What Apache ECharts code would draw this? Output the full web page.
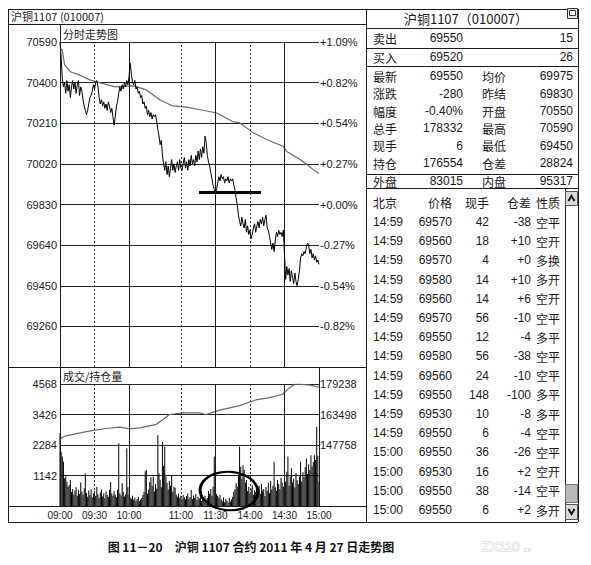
<!DOCTYPE html>
<html><head><meta charset="utf-8">
<script src="https://cdn.jsdelivr.net/npm/echarts@6/dist/echarts.min.js"></script>
<style>html,body{margin:0;padding:0;background:#fff}#c{width:591px;height:565px}</style>
</head><body><div id="c"></div>
<script>
// ---------- data ----------
const sessions = [['09:00','10:15'],['10:31','11:30'],['13:31','15:00']];
const prevSettle = 69830;
const priceScale = {min:69070, max:70590, interval:190};
const volScale = {min:0, max:4568, interval:1142};
const oiScale = {min:116278, max:179238, interval:15740};
const oiLabelMin = 147758;
const timeLabels = ['09:00','09:30','10:00','11:00','11:30','14:00','14:30','15:00'];
const solidTimes = ['10:00','11:30','14:30'];
const dottedTimes = ['09:30','11:00','14:00'];

const price = [70590,70520,70420,70380,70400,70350,
70410,70360,70390,70330,70380,70410,70370,70400,70350,70390,70410,70340,70380,70360,
70320,70290,70270,70250,70270,
70300,70330,70340,70360,70390,70370,70400,70410,
70380,70330,70300,70320,70290,70310,70280,70300,70270,70310,70290,70260,70280,70240,
70200,70240,70290,70310,70350,70380,70360,70390,70370,70400,70380,70410,
70390,70430,70490,70440,70400,
70390,70410,70370,70380,70350,70360,70330,70340,70300,70310,
70280,70290,70250,70270,70240,70260,70230,70250,70240,70250,70220,
70180,70150,70110,70130,70060,70020,
69990,70030,69970,70010,69960,70000,70040,69990,70020,69980,70010,70030,69990,70040,70000,69990,70020,70050,70000,70030,69990,70040,70010,70060,70020,70040,
70010,70060,70030,70080,70040,70090,70050,70100,70070,70150,70120,70060,
70030,70010,69980,69950,69920,69900,69880,
69900,69930,69960,69940,69970,69950,69960,69930,69950,69940,69960,69930,69950,69940,69950,69920,
69900,69860,69830,69780,69750,69730,69770,69740,69720,
69760,69700,69730,69690,69710,69670,69690,
69720,69740,69700,69730,
69750,69720,69760,69740,69770,69730,69760,69780,69720,
69710,69680,69650,69620,69650,69610,
69660,69700,69680,69710,69690,69700,69680,69710,
69600,69480,
69540,69500,69530,69470,69520,69490,69460,69510,69470,69450,69480,
69520,69580,69600,69590,69610,69600,69630,69650,69640,
69600,69620,69580,69600,69570,69590,69560,69570,69550];

const avgPrice = [['09:00',70560],['09:02',70553],['09:04',70483],['09:09',70451],['09:17',70436],
['09:26',70413],['09:35',70399],['09:48',70380],['10:04',70385],['10:15',70366],['10:42',70319],
['10:53',70291],['11:05',70285],['11:17',70273],['13:31',70258],['13:45',70218],['13:51',70212],
['14:03',70165],['14:15',70133],['14:29',70101],['14:32',70078],['14:44',70039],['14:57',69985],['15:00',69975]];

const volume = [2720,2030,1850,1660,1040,1100,910,720,790,970,
520,640,430,580,700,380,610,450,880,540,
420,660,1220,490,350,580,410,620,330,470,
560,380,720,440,300,510,620,360,480,290,
540,410,350,600,900,470,380,560,420,330,
610,2350,480,390,850,520,360,440,2160,700,
410,320,270,380,230,310,200,260,350,180,
240,300,410,520,1300,1350,460,620,900,1080,
760,1100,540,820,650,2660,1220,980,700,2410,
1500,2220,1100,860,620,940,760,1160,520,720,
680,430,350,470,300,380,260,420,330,250,
370,470,280,340,600,260,390,310,450,220,
350,280,420,190,330,260,380,230,300,560,
470,640,380,720,1850,610,450,380,300,420,
250,180,330,140,260,200,120,310,170,240,
350,530,640,850,720,1150,2220,1470,1020,1530,
1350,880,970,560,720,480,650,790,420,600,
530,690,380,760,450,820,580,640,370,710,
560,870,480,940,620,760,1660,700,560,970,
820,640,1060,890,720,3400,920,1280,1850,760,
1100,1410,880,1020,690,1240,960,820,1100,1660,
920,1260,1080,1450,1780,1200,1560,1340,1900,1480,
1650,1900,1720,2970,1880,900];

const openInterest = [['09:00',151000],['09:05',152500],['09:25',154960],['09:40',156280],['09:52',156940],
['10:00',156100],['10:09',156600],['10:38',158250],['10:44',160700],['10:50',163500],['11:02',164300],
['11:16',164300],['11:22',163500],['13:33',165600],['13:51',168100],['14:05',171000],['14:17',172200],
['14:28',173800],['14:34',177100],['14:39',179100],['14:43',179200],['14:52',178700],['14:57',177900],['15:00',177800]];

const chartTitle = '沪铜1107 (010007)';
const priceTitle = '分时走势图';
const volTitle = '成交/持仓量';
const quoteTitle = '沪铜1107（010007）';
const quoteRows = [
  ['卖出','69550','','15'],
  ['买入','69520','','26'],
  ['最新','69550','均价','69975'],
  ['涨跌','-280','昨结','69830'],
  ['幅度','-0.40%','开盘','70550'],
  ['总手','178332','最高','70590'],
  ['现手','6','最低','69450'],
  ['持仓','176554','仓差','28824'],
  ['外盘','83015','内盘','95317']
];
const tickHeader = ['北京','价格','现手','仓差','性质'];
const tickRows = [
  ['14:59','69570','42','-38','空平'],
  ['14:59','69560','18','+10','空开'],
  ['14:59','69570','4','+0','多换'],
  ['14:59','69580','14','+10','多开'],
  ['14:59','69560','14','+6','空开'],
  ['14:59','69570','56','-10','空平'],
  ['14:59','69550','12','-4','多平'],
  ['14:59','69580','56','-38','空平'],
  ['14:59','69560','24','-10','空平'],
  ['14:59','69550','148','-100','多平'],
  ['14:59','69530','10','-8','多平'],
  ['14:59','69550','6','-4','空平'],
  ['15:00','69550','36','-26','空平'],
  ['15:00','69530','16','+2','空开'],
  ['15:00','69550','38','-14','空平'],
  ['15:00','69550','6','+2','多开']
];
const caption = '图 11－20　沪铜 1107 合约 2011 年 4 月 27 日走势图';
const watermark = 'ZX110';
const watermarkSuffix = '.cn';

// ---------- build ----------
const categories = [];
sessions.forEach(([a,b]) => {
  let [h,m] = a.split(':').map(Number); const [eh,em] = b.split(':').map(Number);
  while (h*60+m <= eh*60+em) { categories.push(String(h).padStart(2,'0')+':'+String(m).padStart(2,'0')); m++; if (m===60){m=0;h++;} }
});
const idx = t => categories.indexOf(t);

const FN = '"Liberation Sans", Arial, sans-serif';
const FC = '"Noto Sans CJK SC", sans-serif';
const INK = '#1a1a1a';

const G = [];
const ln = (x1,y1,x2,y2,w,c) => { w = w||1; c = c||INK; const o = (w%2===1)?0.5:0;
  G.push({type:'line', silent:true, z:50, shape:{x1:x1+(x1===x2?o:0), y1:y1+(y1===y2?o:0), x2:x2+(x1===x2?o:0), y2:y2+(y1===y2?o:0)}, style:{stroke:c, lineWidth:w}}); };
const tx = (t,x,y,align,font,fill,z) => G.push({type:'text', silent:true, z:z||50, x, y,
  style:{text:t, font:font||('12px '+FN), fill:fill||INK, align:align||'left', verticalAlign:'middle'}});

// frame
ln(8,9,578,9); ln(8,9,8,522); ln(8,522,578,522); ln(578,9,578,522); ln(366,9,366,522);
ln(8,24,366,24); ln(8,367,366,367); ln(8,506,366,506); ln(60,24,60,506); ln(319,367,319,506);
tx(chartTitle,11,16,'left','11px '+FC);
tx(priceTitle,63,34,'left','11px '+FC);
tx(volTitle,63,376,'left','11px '+FC);

// right panel
tx(quoteTitle,466,18,'center','13px '+FC);
G.push({type:'rect', silent:true, z:55, shape:{x:567.5,y:8.5,width:10,height:10}, style:{fill:'#e8e8e8', stroke:'#333', lineWidth:1}});
G.push({type:'rect', silent:true, z:56, shape:{x:569.5,y:10.5,width:6,height:5}, style:{fill:'#fff', stroke:'#333', lineWidth:1}});
[28,48,66,174,188].forEach(y => ln(366,y,578,y));
const quoteY = [38,57,76,93.5,111,128,145.5,163,181];
quoteRows.forEach((r,i) => {
  const y = quoteY[i];
  tx(r[0],373,y,'left','12px '+FC);
  tx(r[1],463,y,'right','12px '+FN);
  if (r[2]) tx(r[2],482,y,'left','12px '+FC);
  tx(r[3],573,y,'right','12px '+FN);
});
const colX = [373,452,489,531,536];
const colA = ['left','right','right','right','left'];
tickHeader.forEach((h,j) => tx(h,colX[j],202,colA[j],'12px '+FC));
tickRows.forEach((r,i) => {
  const y = 222 + i*19.2;
  r.forEach((v,j) => tx(v,colX[j],y,colA[j], (j===4?'12px '+FC:'12px '+FN)));
});
// scrollbar
ln(565,189,565,522);
G.push({type:'rect', silent:true, z:55, shape:{x:565.5,y:191.5,width:12,height:14}, style:{fill:'#d8d8d8', stroke:'#555', lineWidth:1}});
G.push({type:'polyline', silent:true, z:56, shape:{points:[[568.5,201],[571.5,196],[574.5,201]]}, style:{stroke:'#111', lineWidth:2, fill:null}});
G.push({type:'rect', silent:true, z:55, shape:{x:565.5,y:504.5,width:12,height:15}, style:{fill:'#d8d8d8', stroke:'#555', lineWidth:1}});
G.push({type:'polyline', silent:true, z:56, shape:{points:[[568.5,509],[571.5,514],[574.5,509]]}, style:{stroke:'#111', lineWidth:2, fill:null}});
G.push({type:'rect', silent:true, z:55, shape:{x:565.5,y:484.5,width:12,height:18}, style:{fill:'#b8b8b8', stroke:'#777', lineWidth:1}});

// annotations
ln(199,192,261,192,3,'#000');
G.push({type:'circle', silent:true, z:60, x:229, y:491, scaleX:1.5, rotation:-0.06,
  shape:{cx:0, cy:0, r:19.3}, style:{fill:null, stroke:'#000', lineWidth:2.5, strokeNoScale:true}});

// caption & watermark
tx(caption,251,546,'center','bold 12px '+FC,'#111');
G.push({type:'text', silent:true, z:50, x:482, y:546, style:{text:watermark, font:'13px '+FN, fill:'#fff', stroke:'#cfcfcf', lineWidth:1, align:'left', verticalAlign:'middle'}});
tx(watermarkSuffix,522,549,'left','7px '+FN,'#d0d0d0');

const vLines = () => solidTimes.map(t => ({xAxis:idx(t), lineStyle:{type:'solid', color:INK, width:1}}))
  .concat(dottedTimes.map(t => ({xAxis:idx(t), lineStyle:{type:[2,2], color:'#333', width:1}})));

const axLabel = {color:INK, fontFamily:FN, fontSize:11};
const chart = echarts.init(document.getElementById('c'), null, {renderer:'svg'});
chart.setOption({
  animation:false,
  backgroundColor:'#fff',
  grid:[{left:60, top:42, width:259, height:325},{left:60, top:384, width:259, height:122}],
  xAxis:[
    {gridIndex:0, type:'category', data:categories, boundaryGap:false, axisLine:{show:false}, axisTick:{show:false}, axisLabel:{show:false}, splitLine:{show:false}},
    {gridIndex:1, type:'category', data:categories, boundaryGap:false, axisLine:{show:false}, axisTick:{show:false},
      axisLabel:{color:INK, fontFamily:FN, fontSize:10, margin:4, interval:(i,v) => timeLabels.includes(v), showMinLabel:true, showMaxLabel:true}, splitLine:{show:false}}
  ],
  yAxis:[
    {gridIndex:0, type:'value', ...priceScale, axisLine:{show:false}, axisTick:{show:false},
      axisLabel:{...axLabel, margin:3, formatter:v => v===priceScale.min ? '' : String(v)},
      splitLine:{show:true, lineStyle:{color:'#222', width:1}}},
    {gridIndex:0, type:'value', position:'right', ...priceScale, axisLine:{show:false}, axisTick:{show:false}, splitLine:{show:false},
      axisLabel:{...axLabel, margin:1, formatter:v => { if (v===priceScale.min) return ''; const p=(v-prevSettle)/prevSettle*100; return (p>=-1e-9?'+':'-')+Math.abs(p).toFixed(2)+'%'; }}},
    {gridIndex:1, type:'value', ...volScale, axisLine:{show:false}, axisTick:{show:false},
      axisLabel:{...axLabel, margin:3, formatter:v => v===0 ? '' : String(v)},
      splitLine:{show:true, lineStyle:{color:'#222', width:1}}},
    {gridIndex:1, type:'value', position:'right', ...oiScale, axisLine:{show:false}, axisTick:{show:false}, splitLine:{show:false},
      axisLabel:{...axLabel, margin:1, formatter:v => v>=oiLabelMin ? String(v) : ''}}
  ],
  series:[
    {type:'line', xAxisIndex:0, yAxisIndex:0, data:price, showSymbol:false, symbol:'none', lineStyle:{color:'#000', width:1}, z:5,
      markLine:{silent:true, symbol:['none','none'], label:{show:false}, data:vLines()}},
    {type:'line', xAxisIndex:0, yAxisIndex:0, data:avgPrice.map(d => [idx(d[0]), d[1]]), showSymbol:false, symbol:'none', lineStyle:{color:'#6a6a6a', width:1.2}, z:4},
    {type:'bar', xAxisIndex:1, yAxisIndex:2, data:volume, barWidth:1, itemStyle:{color:'#000'}, z:3,
      markLine:{silent:true, symbol:['none','none'], label:{show:false}, data:vLines()}},
    {type:'line', xAxisIndex:1, yAxisIndex:3, data:openInterest.map(d => [idx(d[0]), d[1]]), showSymbol:false, symbol:'none', lineStyle:{color:'#6a6a6a', width:1.2}, z:4}
  ],
  graphic:{elements:G}
});
</script>
</body></html>
